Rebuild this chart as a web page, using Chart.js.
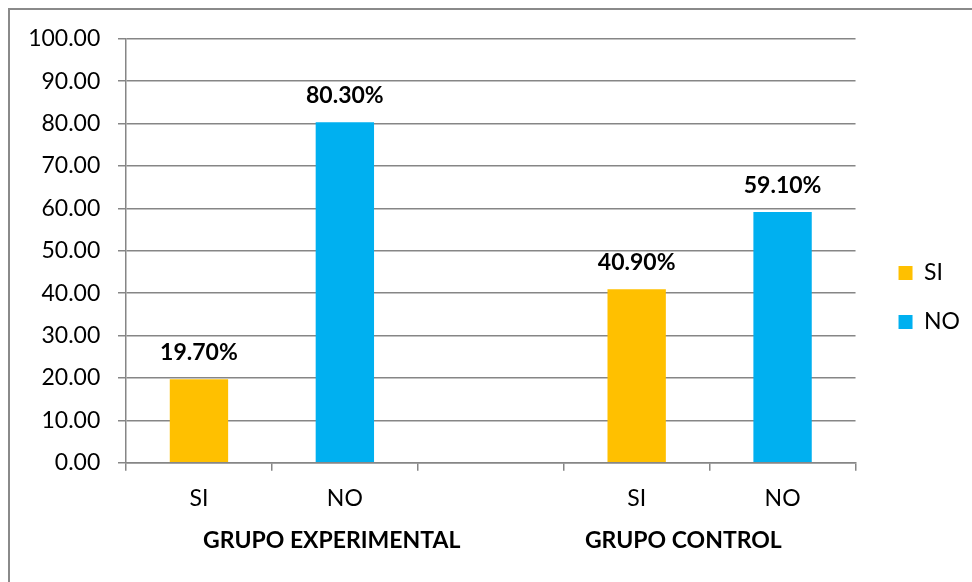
<!DOCTYPE html>
<html><head><meta charset="utf-8">
<script src="https://cdn.jsdelivr.net/npm/chart.js@4.4.1/dist/chart.umd.min.js"></script>
<style>
html,body{margin:0;padding:0;background:#fff;overflow:hidden;}
#wrap{position:relative;width:972px;height:582px;}
#frame{position:absolute;left:8px;top:8px;width:2000px;height:2000px;border:2px solid #8a8a8a;box-sizing:border-box;}
#c{position:absolute;left:0;top:0;}
</style></head><body>
<div id="wrap"><div id="frame"></div><canvas id="c" width="972" height="582"></canvas></div>
<script>
// ---- data ----
const categories = ['SI', 'NO', '', 'SI', 'NO'];
const seriesNames = ['SI', 'NO'];
const siValues = [19.70, null, null, 40.90, null];
const noValues = [null, 80.30, null, null, 59.10];
const groupLabels = ['GRUPO EXPERIMENTAL', 'GRUPO CONTROL'];
const yMin = 0, yMax = 100, yStep = 10;

// ---- style ----
const FONT = 'Lato, "Open Sans", sans-serif';
const GRID = '#868686';
const COLORS = ['#FFC000', '#00B0F0'];
const groupAnchor = [0.91, 3.32]; // category-index positions of group titles

const barLabels = {
  id: 'barLabels',
  afterDatasetsDraw(chart) {
    const ctx = chart.ctx;
    ctx.save();
    ctx.font = 'bold 23px ' + FONT;
    ctx.fillStyle = '#000';
    ctx.textAlign = 'center';
    ctx.textBaseline = 'alphabetic';
    chart.data.datasets.forEach((ds, di) => {
      const meta = chart.getDatasetMeta(di);
      meta.data.forEach((el, i) => {
        const v = ds.data[i];
        if (v === null || v === undefined) return;
        ctx.fillText(v.toFixed(2) + '%', el.x, el.y - 19);
      });
    });
    ctx.restore();
  }
};

const groupTitles = {
  id: 'groupTitles',
  afterDraw(chart) {
    const ctx = chart.ctx;
    const xs = chart.scales.x;
    ctx.save();
    ctx.font = 'bold 23px ' + FONT;
    ctx.fillStyle = '#000';
    ctx.textAlign = 'center';
    ctx.textBaseline = 'alphabetic';
    groupLabels.forEach((g, i) => {
      ctx.fillText(g, xs.getPixelForValue(groupAnchor[i]), chart.chartArea.bottom + 85.5);
    });
    ctx.restore();
  }
};

new Chart(document.getElementById('c'), {
  type: 'bar',
  data: {
    labels: categories,
    datasets: [
      { label: seriesNames[0], data: siValues, backgroundColor: COLORS[0], borderWidth: 0 },
      { label: seriesNames[1], data: noValues, backgroundColor: COLORS[1], borderWidth: 0 }
    ]
  },
  options: {
    responsive: false,
    animation: false,
    devicePixelRatio: 1,
    skipNull: true,
    categoryPercentage: 0.4,
    barPercentage: 1.0,
    layout: { padding: { left: 0, top: 38.7, right: 2, bottom: 0 } },
    plugins: {
      tooltip: { enabled: false },
      legend: {
        position: 'right',
        fullSize: false,
        title: { display: true, text: '', font: { size: 12 }, padding: { top: 79, bottom: 0 } },
        labels: {
          font: { family: FONT, size: 23 },
          color: '#000',
          boxWidth: 14,
          boxHeight: 14,
          padding: 26
        }
      }
    },
    scales: {
      x: {
        grid: { display: true, drawOnChartArea: false, offset: true, color: GRID, lineWidth: 1.5, tickLength: 8, tickColor: GRID },
        border: { display: true, color: GRID, width: 1.5 },
        ticks: { font: { family: FONT, size: 23 }, color: '#000', padding: 14, maxRotation: 0, autoSkip: false },
        afterFit(s) { s.height = 119.3; }
      },
      y: {
        min: yMin, max: yMax,
        ticks: { stepSize: yStep, font: { family: FONT, size: 23 }, color: '#000', padding: 17.7,
                 callback: v => Number(v).toFixed(2) },
        grid: { color: GRID, lineWidth: 1.5, tickLength: 8, tickColor: GRID },
        border: { display: true, color: GRID, width: 1.5 },
        afterFit(s) { s.width = 126; }
      },
      spacer: {
        type: 'linear', position: 'right', display: true,
        grid: { display: false }, border: { display: false }, ticks: { display: false },
        afterFit(s) { s.width = 17; }
      }
    }
  },
  plugins: [barLabels, groupTitles]
});
</script>
</body></html>
